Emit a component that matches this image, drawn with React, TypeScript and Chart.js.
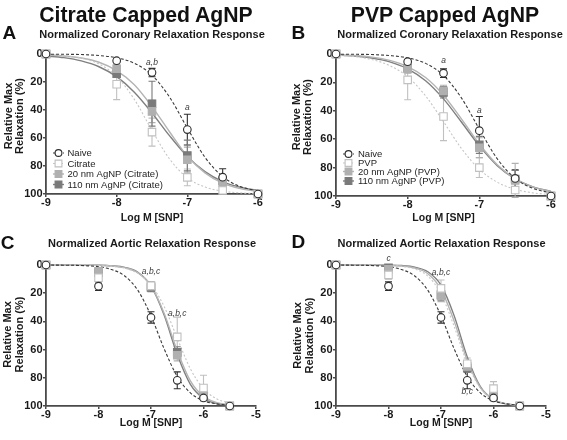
import React, { useEffect, useRef } from "react";
import { Chart, registerables } from "chart.js";

Chart.register(...registerables);

const FONT = '"Liberation Sans", Arial, Helvetica, sans-serif';

// ---------------- data ----------------
// concentrations (log M SNP)
const coronaryDoses = [-9, -8, -7.5, -7, -6.5, -6];
const aorticDoses = [-9, -8, -7, -6.5, -6, -5.5];
const coronaryFitX = [-9, -8.75, -8.5, -8.25, -8, -7.75, -7.5, -7.25, -7, -6.75, -6.5, -6.25, -6];
const aorticFitX = [-9, -8.75, -8.5, -8.25, -8, -7.75, -7.5, -7.25, -7, -6.75, -6.5, -6.25, -6, -5.75, -5.5];

const coronaryTicksX = [-9, -8, -7, -6];
const aorticTicksX = [-9, -8, -7, -6, -5];
const relaxTicks = [0, 20, 40, 60, 80, 100];

// Panel A - coronary, citrate capped
const aNaive = [0, 4.8, 13.3, 54, 88, 100];
const aNaiveErr = [0, 1.5, 3, 11, 6, 0];
const aCitrate = [0, 21.6, 55.8, 88.1, 97.4, 100];
const aCitrateErr = [0, 11, 10, 6, 1.5, 0];
const a20 = [0, 10.5, 41, 75.5, 92, 100];
const a20Err = [0, 3, 8, 9, 2.5, 0];
const a110 = [0, 14, 35.5, 72.5, 90.5, 100];
const a110Err = [0, 2.5, 16, 11, 2.5, 0];
const aNaiveFit = [0.1, 0.2, 0.4, 1.1, 2.7, 6.6, 15.1, 30.9, 52.9, 73.8, 87.6, 94.7, 97.8];
const aCitrateFit = [0.5, 1.2, 2.9, 7.1, 16.0, 32.4, 54.6, 75.1, 88.4, 95.0, 98.0, 99.2, 99.7];
const a20Fit = [0.7, 1.4, 2.9, 5.9, 11.9, 22.0, 37.6, 55.7, 72.9, 84.9, 92.3, 96.2, 98.2];
const a110Fit = [1.4, 2.6, 4.9, 9.1, 16.2, 27.3, 42.1, 58.5, 73.2, 84.0, 91.1, 95.2, 97.5];

// Panel B - coronary, PVP capped
const bNaive = [0, 5.4, 13.5, 54, 87.6, 100];
const bNaiveErr = [0, 1.5, 3, 10, 6, 0];
const bPvp = [0, 18.2, 44, 80, 95.8, 100];
const bPvpErr = [0, 14, 17, 7, 1.5, 0];
const b20 = [0, 10.5, 26, 66, 89, 100];
const b20Err = [0, 3, 4, 7, 12, 0];
const b110 = [0, 10, 27, 64, 88, 100];
const b110Err = [0, 2.5, 4, 6, 6, 0];
const bNaiveFit = [0.1, 0.2, 0.4, 1.1, 2.7, 6.6, 15.1, 30.9, 52.9, 73.8, 87.6, 94.7, 97.8];
const bPvpFit = [0.9, 1.8, 3.9, 8.2, 16.0, 29.5, 47.7, 66.5, 81.2, 90.3, 95.3, 97.8, 99.0];
const b20Fit = [0.6, 1.1, 2.2, 4.5, 8.9, 16.6, 29.0, 45.7, 63.4, 78.0, 87.9, 93.7, 96.9];
const b110Fit = [0.7, 1.4, 2.8, 5.5, 10.4, 18.8, 31.6, 47.9, 64.7, 78.6, 88.0, 93.6, 96.7];

// Panel C - aortic, citrate capped
const cNaive = [0, 15, 37.2, 81.8, 94.3, 100];
const cNaiveErr = [0, 3, 4, 6, 2, 0];
const cCitrate = [0, 9, 14.7, 51, 87.2, 100];
const cCitrateErr = [0, 3, 3, 14, 9, 0];
const c20 = [0, 4.5, 15, 64, 92, 100];
const c20Err = [0, 2, 3, 4, 3, 0];
const c110 = [0, 5.5, 16, 62, 92.5, 100];
const c110Err = [0, 2, 3, 4, 2, 0];
const cNaiveFit = [0, 0.1, 0.2, 0.5, 1.2, 3.2, 7.8, 18.0, 36.1, 59.4, 79.1, 90.7, 96.2, 98.5, 99.4];
const cCitrateFit = [0, 0, 0.1, 0.1, 0.4, 0.9, 2.3, 5.9, 14.0, 29.4, 51.9, 73.6, 87.8, 94.9, 98.0];
const c20Fit = [0, 0, 0, 0.1, 0.2, 0.7, 1.9, 5.5, 14.8, 34.2, 60.8, 82.2, 93.2, 97.6, 99.2];
const c110Fit = [0, 0, 0, 0.1, 0.2, 0.6, 1.7, 5.2, 14.8, 35.5, 63.5, 84.6, 94.6, 98.2, 99.4];

// Panel D - aortic, PVP capped
const dNaive = [0, 15, 37.2, 81.8, 94.3, 100];
const dNaiveErr = [0, 3, 4, 6, 2, 0];
const dPvp = [0, 7, 16.6, 70, 87.7, 100];
const dPvpErr = [0, 3, 6, 4, 5, 0];
const d20 = [0, 3, 22, 72, 92, 100];
const d20Err = [0, 2, 4, 4, 3, 0];
const d110 = [0, 2, 21, 73, 93, 100];
const d110Err = [0, 2, 4, 3, 2, 0];
const dNaiveFit = [0, 0.1, 0.2, 0.5, 1.2, 3.2, 7.8, 18.0, 36.1, 59.4, 79.1, 90.7, 96.2, 98.5, 99.4];
const dPvpFit = [0, 0, 0, 0.1, 0.3, 1.0, 2.8, 7.9, 20.5, 43.5, 69.7, 87.3, 95.3, 98.4, 99.5];
const d20Fit = [0, 0, 0, 0.1, 0.2, 0.7, 2.1, 6.2, 17.3, 39.8, 67.6, 86.9, 95.4, 98.5, 99.5];
const d110Fit = [0, 0, 0, 0, 0.1, 0.4, 1.5, 4.8, 14.3, 35.9, 65.2, 86.3, 95.5, 98.6, 99.6];

// significance labels
const aNotes = ["a,b", "a"];
const bNotes = ["a", "a"];
const cNotes = ["a,b,c", "a,b,c"];
const dNotes = ["c", "a,b,c", "b,c"];

const xTitle = "Log M [SNP]";
const yTitle = ["Relative Max", "Relaxation (%)"];

// ---------------- styles ----------------
const STYLES: any = {
  naive: { shape: "circle", stroke: "#2e2e2e", fill: "#ffffff", line: "#3a3a3a", dash: [3, 2], lineWidth: 1.1, radius: 3.8 },
  vehicle: { shape: "rect", stroke: "#c0c0c0", fill: "#ffffff", line: "#c6c6c6", dash: [2, 2], lineWidth: 1.1, radius: 5.3 },
  nm20: { shape: "rect", stroke: "#b0b0b0", fill: "#b0b0b0", line: "#b4b4b4", dash: [], lineWidth: 1.4, radius: 5.3 },
  nm110: { shape: "rect", stroke: "#7a7a7a", fill: "#7a7a7a", line: "#7f7f7f", dash: [], lineWidth: 1.4, radius: 5.3 },
};

const panels: any[] = [
  {
    key: "A",
    doses: coronaryDoses, fitX: coronaryFitX, ticksX: coronaryTicksX, xMin: -9, xMax: -6,
    series: [
      { label: "Naive", style: "naive", values: aNaive, errors: aNaiveErr, fit: aNaiveFit },
      { label: "Citrate", style: "vehicle", values: aCitrate, errors: aCitrateErr, fit: aCitrateFit },
      { label: "20 nm AgNP (Citrate)", style: "nm20", values: a20, errors: a20Err, fit: a20Fit },
      { label: "110 nm AgNP (Citrate)", style: "nm110", values: a110, errors: a110Err, fit: a110Fit },
    ],
    notes: [
      { text: aNotes[0], x: -7.5, y: 6.3 },
      { text: aNotes[1], x: -7, y: 38.5 },
    ],
    legend: { rows: [-41, -30.5, -20, -9.5], lineStart: 7, lineEnd: 18, marker: 12.5, text: 21.5 },
    geom: { left: 0, top: 0, w: 283, h: 224, padTop: 54, padRight: 25, yWidth: 46, xHeight: 30, xTitlePad: 0, yTitleX: 8.5, yTitleShift: -8 },
  },
  {
    key: "B",
    doses: coronaryDoses, fitX: coronaryFitX, ticksX: coronaryTicksX, xMin: -9, xMax: -6,
    series: [
      { label: "Naive", style: "naive", values: bNaive, errors: bNaiveErr, fit: bNaiveFit },
      { label: "PVP", style: "vehicle", values: bPvp, errors: bPvpErr, fit: bPvpFit },
      { label: "20 nm AgNP (PVP)", style: "nm20", values: b20, errors: b20Err, fit: b20Fit },
      { label: "110 nm AgNP (PVP)", style: "nm110", values: b110, errors: b110Err, fit: b110Fit },
    ],
    notes: [
      { text: bNotes[0], x: -7.5, y: 5 },
      { text: bNotes[1], x: -7, y: 40 },
    ],
    legend: { rows: [-42, -33, -24.5, -15], lineStart: 7, lineEnd: 18, marker: 12.5, text: 22 },
    geom: { left: 283, top: 0, w: 284, h: 224, padTop: 54, padRight: 16, yWidth: 53, xHeight: 28, xTitlePad: 0, yTitleX: 13.7, yTitleShift: -8 },
  },
  {
    key: "C",
    doses: aorticDoses, fitX: aorticFitX, ticksX: aorticTicksX, xMin: -9, xMax: -5,
    series: [
      { label: "Naive", style: "naive", values: cNaive, errors: cNaiveErr, fit: cNaiveFit },
      { label: "Citrate", style: "vehicle", values: cCitrate, errors: cCitrateErr, fit: cCitrateFit },
      { label: "20 nm AgNP (Citrate)", style: "nm20", values: c20, errors: c20Err, fit: c20Fit },
      { label: "110 nm AgNP (Citrate)", style: "nm110", values: c110, errors: c110Err, fit: c110Fit },
    ],
    notes: [
      { text: cNotes[0], x: -7, y: 4.7 },
      { text: cNotes[1], x: -6.5, y: 34.4 },
    ],
    legend: null,
    geom: { left: 0, top: 224, w: 283, h: 216, padTop: 41, padRight: 27, yWidth: 46, xHeight: 34, xTitlePad: 10.5, yTitleX: 8.3, yTitleShift: -1 },
  },
  {
    key: "D",
    doses: aorticDoses, fitX: aorticFitX, ticksX: aorticTicksX, xMin: -9, xMax: -5,
    series: [
      { label: "Naive", style: "naive", values: dNaive, errors: dNaiveErr, fit: dNaiveFit },
      { label: "PVP", style: "vehicle", values: dPvp, errors: dPvpErr, fit: dPvpFit },
      { label: "20 nm AgNP (PVP)", style: "nm20", values: d20, errors: d20Err, fit: d20Fit },
      { label: "110 nm AgNP (PVP)", style: "nm110", values: d110, errors: d110Err, fit: d110Fit },
    ],
    notes: [
      { text: dNotes[0], x: -8, y: -4.5 },
      { text: dNotes[1], x: -7, y: 5.5 },
      { text: dNotes[2], x: -6.5, y: 89.6 },
    ],
    legend: null,
    geom: { left: 283, top: 224, w: 284, h: 216, padTop: 41, padRight: 21, yWidth: 53, xHeight: 34, xTitlePad: 10.5, yTitleX: 15.3, yTitleShift: 0 },
  },
];

const headings = [
  { text: "Citrate Capped AgNP", cx: 146, capY: 13.9, size: 21.2 },
  { text: "PVP Capped AgNP", cx: 445, capY: 13.9, size: 21.2 },
];
const letters = [
  { text: "A", x: 2.5, capY: 32.7, size: 19 },
  { text: "B", x: 291.6, capY: 32.7, size: 19 },
  { text: "C", x: 0.8, capY: 242, size: 19 },
  { text: "D", x: 291.6, capY: 241.5, size: 19 },
];
const subtitles = [
  { text: "Normalized Coronary Relaxation Response", cx: 152, capY: 34, size: 11 },
  { text: "Normalized Coronary Relaxation Response", cx: 450, capY: 34, size: 11 },
  { text: "Normalized Aortic Relaxation Response", cx: 152, capY: 243.5, size: 11 },
  { text: "Normalized Aortic Relaxation Response", cx: 441.5, capY: 243.5, size: 11 },
];

// ---------------- chart building ----------------
function drawMarker(ctx: any, st: any, x: number, y: number, r: number) {
  ctx.save();
  ctx.setLineDash([]);
  ctx.lineWidth = 1.1;
  ctx.strokeStyle = st.stroke;
  ctx.fillStyle = st.fill;
  ctx.beginPath();
  if (st.shape === "circle") ctx.arc(x, y, r, 0, Math.PI * 2);
  else ctx.rect(x - r, y - r, 2 * r, 2 * r);
  ctx.fill();
  ctx.stroke();
  ctx.restore();
}

function buildConfig(p: any) {
  const g = p.geom;
  const pointSets = p.series.map((s: any) => {
    const st = STYLES[s.style];
    return {
      label: s.label,
      data: p.doses.map((d: number, i: number) => ({ x: d, y: s.values[i] })),
      errors: s.errors,
      errColor: st.stroke,
      showLine: false,
      pointStyle: st.shape,
      pointRadius: st.radius,
      pointBorderWidth: 1.1,
      pointBorderColor: st.stroke,
      pointBackgroundColor: st.fill,
      clip: false,
    };
  });
  const fitSets = p.series.map((s: any) => {
    const st = STYLES[s.style];
    return {
      label: s.label + " fit",
      data: p.fitX.map((d: number, i: number) => ({ x: d, y: s.fit[i] })),
      showLine: true,
      borderColor: st.line,
      borderWidth: st.lineWidth,
      borderDash: st.dash,
      pointRadius: 0,
      cubicInterpolationMode: "monotone",
      clip: false,
    };
  });

  const errorBarPlugin = {
    id: "errorBars" + p.key,
    beforeDatasetsDraw(chart: any) {
      const { ctx } = chart;
      const xs = chart.scales.x, ys = chart.scales.y;
      chart.data.datasets.forEach((ds: any) => {
        if (!ds.errors) return;
        ctx.save();
        ctx.strokeStyle = ds.errColor;
        ctx.lineWidth = 1.1;
        ds.data.forEach((pt: any, i: number) => {
          const e = ds.errors[i];
          if (!e) return;
          const px = xs.getPixelForValue(pt.x);
          const y1 = ys.getPixelForValue(pt.y - e);
          const y2 = ys.getPixelForValue(pt.y + e);
          ctx.beginPath();
          ctx.moveTo(px, y1); ctx.lineTo(px, y2);
          ctx.moveTo(px - 3.5, y1); ctx.lineTo(px + 3.5, y1);
          ctx.moveTo(px - 3.5, y2); ctx.lineTo(px + 3.5, y2);
          ctx.stroke();
        });
        ctx.restore();
      });
    },
  };

  const notesPlugin = {
    id: "notes" + p.key,
    afterDatasetsDraw(chart: any) {
      const { ctx } = chart;
      const xs = chart.scales.x, ys = chart.scales.y;
      ctx.save();
      ctx.font = "italic 8.5px " + FONT;
      ctx.fillStyle = "#3a3a3a";
      ctx.textAlign = "center";
      ctx.textBaseline = "middle";
      p.notes.forEach((n: any) => {
        ctx.fillText(n.text, xs.getPixelForValue(n.x), ys.getPixelForValue(n.y));
      });
      ctx.restore();
    },
  };

  const yTitlePlugin = {
    id: "yTitle" + p.key,
    afterDraw(chart: any) {
      const { ctx } = chart;
      const ys = chart.scales.y;
      const cy = (ys.top + ys.bottom) / 2 + g.yTitleShift;
      ctx.save();
      ctx.font = "bold 11px " + FONT;
      ctx.fillStyle = "#1a1a1a";
      ctx.textAlign = "center";
      ctx.textBaseline = "middle";
      yTitle.forEach((line: string, i: number) => {
        ctx.save();
        ctx.translate(g.yTitleX + i * 11.4, cy);
        ctx.rotate(-Math.PI / 2);
        ctx.fillText(line, 0, 0);
        ctx.restore();
      });
      ctx.restore();
    },
  };

  const legendPlugin = {
    id: "legend" + p.key,
    afterDatasetsDraw(chart: any) {
      const L = p.legend;
      if (!L) return;
      const { ctx, chartArea } = chart;
      p.series.forEach((s: any, i: number) => {
        const st = STYLES[s.style];
        const y = chartArea.bottom + L.rows[i];
        ctx.save();
        ctx.strokeStyle = st.line;
        ctx.lineWidth = st.lineWidth;
        ctx.setLineDash(st.dash);
        ctx.beginPath();
        ctx.moveTo(chartArea.left + L.lineStart, y);
        ctx.lineTo(chartArea.left + L.lineEnd, y);
        ctx.stroke();
        ctx.restore();
        drawMarker(ctx, st, chartArea.left + L.marker, y, 3.4);
        ctx.save();
        ctx.font = "9.5px " + FONT;
        ctx.fillStyle = "#1e1e1e";
        ctx.textAlign = "left";
        ctx.textBaseline = "middle";
        ctx.fillText(s.label, chartArea.left + L.text, y + 0.5);
        ctx.restore();
      });
    },
  };

  const axisColor = "#4a4a4a";
  const tickFont = { family: FONT, size: 11, weight: "bold", lineHeight: 1.0 };

  return {
    type: "scatter",
    data: { datasets: [...pointSets, ...fitSets] },
    options: {
      animation: false,
      responsive: false,
      maintainAspectRatio: false,
      devicePixelRatio: 1,
      layout: { padding: { left: 0, top: g.padTop, right: g.padRight, bottom: 0 } },
      plugins: {
        legend: { display: false },
        tooltip: { enabled: false },
        title: { display: false },
      },
      scales: {
        x: {
          type: "linear",
          min: p.xMin,
          max: p.xMax,
          afterFit: (s: any) => { s.height = g.xHeight; },
          afterBuildTicks: (s: any) => { s.ticks = p.ticksX.map((v: number) => ({ value: v })); },
          ticks: { font: tickFont, color: "#1a1a1a", padding: 0, maxRotation: 0 },
          grid: { drawOnChartArea: false, drawTicks: true, tickLength: 3, color: axisColor, lineWidth: 1.5 },
          border: { display: true, color: axisColor, width: 1.8 },
          title: {
            display: true,
            text: xTitle,
            color: "#1a1a1a",
            font: { family: FONT, size: 10.5, weight: "bold", lineHeight: 1.2 },
            padding: { top: 0, bottom: g.xTitlePad },
          },
        },
        y: {
          type: "linear",
          reverse: true,
          min: 0,
          max: 100,
          afterFit: (s: any) => { s.width = g.yWidth; },
          afterBuildTicks: (s: any) => { s.ticks = relaxTicks.map((v: number) => ({ value: v })); },
          ticks: { font: tickFont, color: "#1a1a1a", padding: 0.5 },
          grid: { drawOnChartArea: false, drawTicks: true, tickLength: 3, color: axisColor, lineWidth: 1.5 },
          border: { display: true, color: axisColor, width: 1.8 },
          title: { display: false },
        },
      },
    },
    plugins: [errorBarPlugin, notesPlugin, legendPlugin, yTitlePlugin],
  };
}

function Panel({ p }: { p: any }) {
  const ref = useRef<HTMLCanvasElement | null>(null);
  useEffect(() => {
    const chart = new Chart(ref.current as any, buildConfig(p) as any);
    return () => chart.destroy();
  }, [p]);
  const g = p.geom;
  return (
    <canvas
      ref={ref}
      width={g.w}
      height={g.h}
      style={{ position: "absolute", left: g.left, top: g.top, width: g.w, height: g.h }}
    />
  );
}

function capTop(capY: number, size: number) {
  return capY - 0.4885 * size;
}

export default function App() {
  return (
    <div
      style={{
        position: "absolute",
        left: 0,
        top: 0,
        width: 567,
        height: 440,
        background: "#ffffff",
        overflow: "hidden",
        fontFamily: FONT,
        color: "#111",
      }}
    >
      {panels.map((p) => (
        <Panel key={p.key} p={p} />
      ))}
      {headings.map((h, i) => (
        <div
          key={"h" + i}
          style={{
            position: "absolute",
            left: h.cx - 200,
            width: 400,
            top: capTop(h.capY, h.size),
            textAlign: "center",
            fontSize: h.size,
            lineHeight: h.size + "px",
            fontWeight: "bold",
            whiteSpace: "nowrap",
          }}
        >
          {h.text}
        </div>
      ))}
      {letters.map((l, i) => (
        <div
          key={"l" + i}
          style={{
            position: "absolute",
            left: l.x,
            top: capTop(l.capY, l.size),
            fontSize: l.size,
            lineHeight: l.size + "px",
            fontWeight: "bold",
          }}
        >
          {l.text}
        </div>
      ))}
      {subtitles.map((s, i) => (
        <div
          key={"s" + i}
          style={{
            position: "absolute",
            left: s.cx - 150,
            width: 300,
            top: capTop(s.capY, s.size),
            textAlign: "center",
            fontSize: s.size,
            lineHeight: s.size + "px",
            fontWeight: "bold",
            whiteSpace: "nowrap",
            color: "#1a1a1a",
          }}
        >
          {s.text}
        </div>
      ))}
    </div>
  );
}
